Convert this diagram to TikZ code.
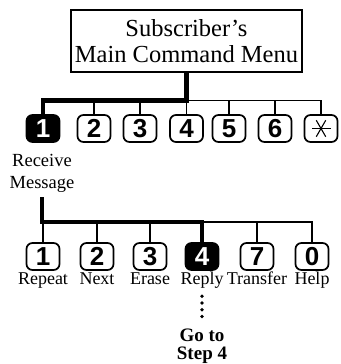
\documentclass[tikz,border=0pt]{standalone}
\usepackage{fontspec}
\setmainfont{Liberation Serif}
\setsansfont{Liberation Sans}
\usetikzlibrary{positioning}

\newcommand{\keyfnt}{\sffamily\bfseries\fontsize{26}{26}\selectfont}
\newcommand{\lblfnt}{\fontsize{18}{22}\selectfont}

\tikzset{
  key/.style={draw, line width=1.7pt, rounded corners=6pt, minimum width=33pt,
              minimum height=27pt, inner sep=0pt, font=\keyfnt},
  keyon/.style={key, fill=black, text=white},
  lbl/.style={font=\lblfnt, inner sep=1pt, text height=12pt, text depth=4pt},
  bus/.style={line width=1.3pt},
  busbold/.style={line width=4.8pt},
  dots/.style={line width=3.8pt, line cap=round, dash pattern=on 0pt off 6.75pt}
}

\begin{document}
\begin{tikzpicture}[x=1pt,y=-1pt]
  \useasboundingbox (0,0) rectangle (340,364);
  \node (menu) [draw, line width=1.3pt, minimum width=231pt, minimum height=62pt,
                align=center, inner sep=0pt, font=\fontsize{24.5}{25.5}\selectfont]
        at (186.5,41) {Subscriber's\\Main Command Menu};

  % main menu keys
  \node (m1) [keyon] at (43,128.5) {1};
  \foreach \n/\x in {2/94,3/140,4/186.5,5/229,6/275}
    \node (m\n) [key] at (\x,128.5) {\n};
  \node (mstar) [key, path picture={
      \foreach \a in {0,60,120}
        \draw[line width=1.1pt] (path picture bounding box.center) +(\a:9.5pt) -- +(\a+180:9.5pt);
    }] at (321,128.5) {};
  \node (recv) [font=\fontsize{18.5}{22}\selectfont, align=center, inner sep=0pt] at (42,173) {Receive\\Message};

  \path (menu.south) ++(0,28) coordinate (tbus);
  \draw[bus] (tbus) -| (mstar.north);
  \foreach \n in {2,...,6}
    \draw[bus] (m\n.north) -- (m\n.north |- tbus);
  \draw[busbold] (menu.south) -- (tbus) -| (m1.north);

  % receive message keys
  \foreach \n/\x/\t in {1/43/Repeat,2/97/Next,3/150/Erase,7/257/Transfer,0/312/Help}{
    \node (r\n) [key] at (\x,256.5) {\n};
    \node (l\n) [lbl, below=0pt of r\n] {\t};
  }
  \node (r4) [keyon] at (202,256.5) {4};
  \node (l4) [lbl, below=0pt of r4] {Reply};
  \node (goto) [font=\fontsize{19}{18}\selectfont\bfseries, align=center, inner sep=0pt] at (202,346) {Go to\\Step 4};

  \coordinate (bbus) at (42,222);
  \draw[bus] (bbus) -| (r0.north);
  \foreach \n in {1,2,3,7}
    \draw[bus] (r\n.north) -- (r\n.north |- bbus);
  \draw[busbold, shorten <=5pt] (recv.south) -- (bbus) -| (r4.north);

  \draw[dots, shorten <=7pt, shorten >=6.5pt] (l4.south) -- (goto.north);
\end{tikzpicture}
\end{document}
